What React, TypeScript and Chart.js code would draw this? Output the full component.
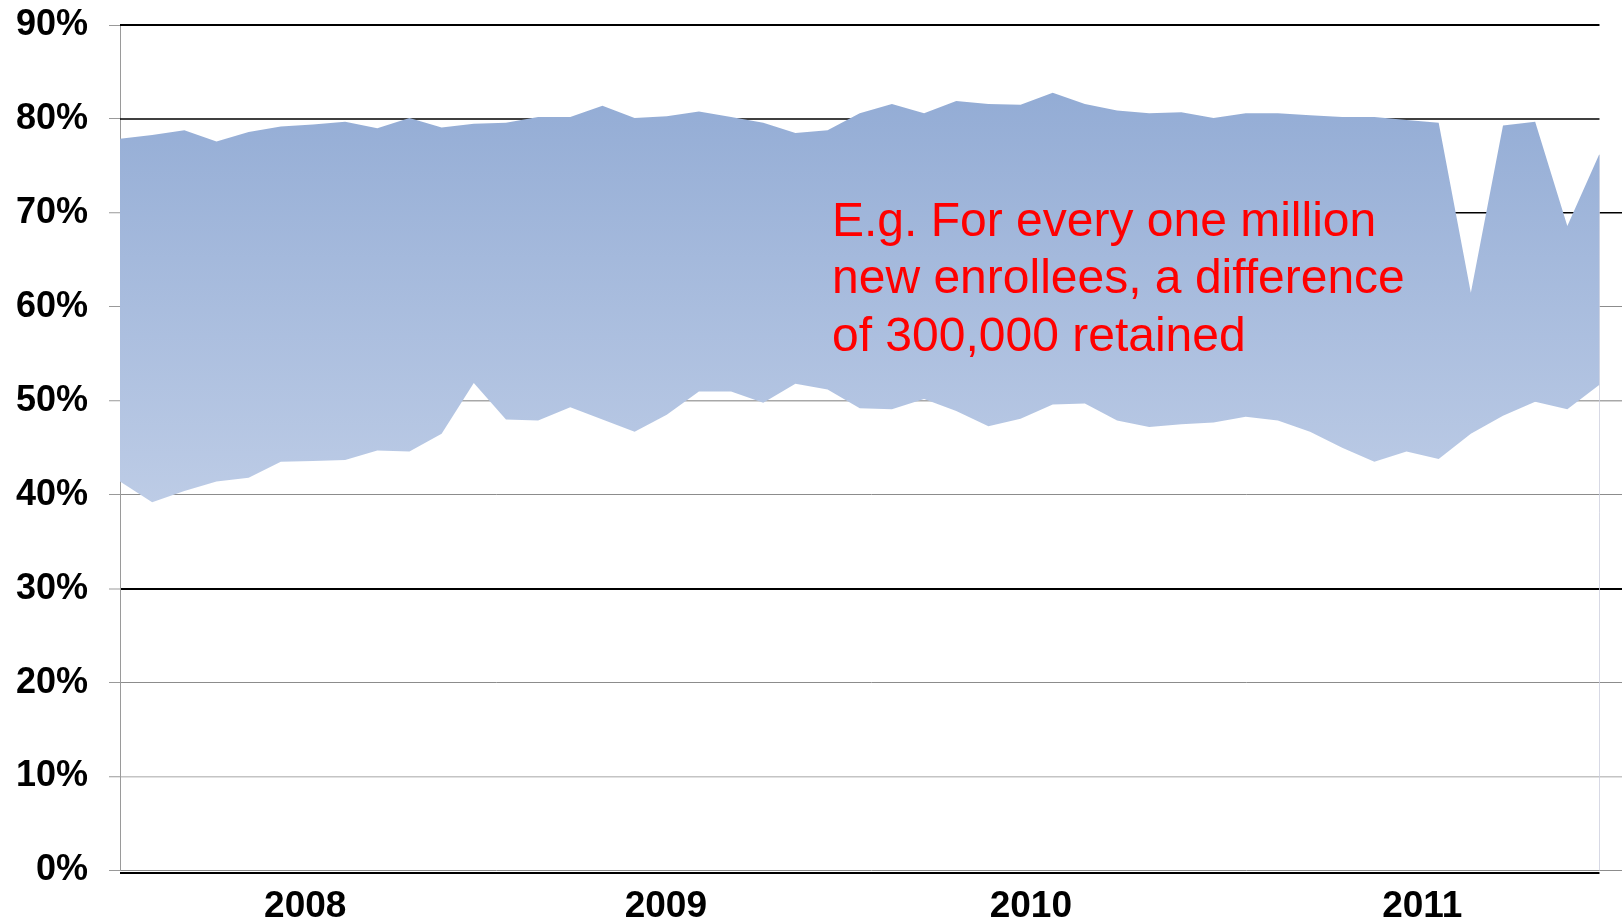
import { useEffect, useRef } from 'react';
import { Chart, registerables } from 'chart.js';

Chart.register(...registerables);

// Monthly retention band: upper and lower bounds (% of new enrollees retained)
const UPPER_PCT = [
  77.9, 78.3, 78.8, 77.6, 78.6, 79.2, 79.4, 79.7, 79.0, 80.1,
  79.1, 79.5, 79.6, 80.2, 80.2, 81.4, 80.1, 80.3, 80.8, 80.2,
  79.6, 78.5, 78.8, 80.6, 81.6, 80.6, 81.9, 81.6, 81.5, 82.8,
  81.6, 80.9, 80.6, 80.7, 80.1, 80.6, 80.6, 80.4, 80.2, 80.2,
  79.9, 79.6, 61.5, 79.3, 79.7, 68.6, 76.3,
];
const LOWER_PCT = [
  41.4, 39.2, 40.4, 41.4, 41.8, 43.5, 43.6, 43.7, 44.7, 44.6,
  46.5, 51.9, 48.0, 47.9, 49.3, 48.0, 46.7, 48.5, 51.0, 51.0,
  49.8, 51.8, 51.2, 49.2, 49.1, 50.2, 48.9, 47.3, 48.1, 49.6,
  49.7, 47.9, 47.2, 47.5, 47.7, 48.3, 47.9, 46.7, 45.0, 43.5,
  44.6, 43.8, 46.5, 48.4, 49.9, 49.1, 51.7,
];

// Year labels and where they sit along the month index axis
const YEAR_LABELS = ['2008', '2009', '2010', '2011'];
const YEAR_POSITIONS = [5.76, 16.97, 28.32, 40.49];

// Gridlines that stop at the last month instead of running to the edge
const SHORT_GRID_VALUES = [90, 80];

const NOTE_LINES = [
  'E.g. For every one million',
  'new enrollees, a difference',
  'of 300,000 retained',
];

const FONT = '"Liberation Sans", Arial, Helvetica, sans-serif';

function gridColor(v: number): string {
  if (SHORT_GRID_VALUES.includes(v)) return 'rgba(0,0,0,0)';
  if (v === 70 || v === 30) return '#000000';
  if (v === 10) return '#c4c4c4';
  if (v === 50) return '#a8a8a8';
  return '#8c8c8c';
}

function gridWidth(v: number): number {
  if (v === 30) return 2;
  if (v === 70 || v === 10 || v === 50) return 1.5;
  return 1;
}

const notePlugin = {
  id: 'retentionNote',
  afterDatasetsDraw(chart: any) {
    const { ctx } = chart;
    ctx.save();
    ctx.font = `48px ${FONT}`;
    ctx.fillStyle = '#ff0000';
    ctx.textBaseline = 'alphabetic';
    ctx.textAlign = 'left';
    NOTE_LINES.forEach((line, i) => ctx.fillText(line, 832, 236 + i * 57.3));
    ctx.restore();
  },
};

const frameLinesPlugin = {
  id: 'frameLines',
  beforeDatasetsDraw(chart: any) {
    const { ctx, scales } = chart;
    const x0 = scales.x.getPixelForValue(0);
    const x1 = scales.x.getPixelForValue(UPPER_PCT.length - 1);
    const yTop = scales.y.getPixelForValue(90);
    const y0 = scales.y.getPixelForValue(0);
    ctx.save();
    // faint right boundary of the data range
    ctx.strokeStyle = 'rgba(205,208,222,0.8)';
    ctx.lineWidth = 1;
    ctx.beginPath();
    ctx.moveTo(Math.round(x1) + 0.5, yTop + 130);
    ctx.lineTo(Math.round(x1) + 0.5, y0);
    ctx.stroke();
    // upper gridlines limited to the month range
    ctx.strokeStyle = '#000000';
    SHORT_GRID_VALUES.forEach((v) => {
      const y = scales.y.getPixelForValue(v);
      ctx.lineWidth = v === 90 ? 2 : 1.5;
      ctx.beginPath();
      ctx.moveTo(x0, y);
      ctx.lineTo(x1, y);
      ctx.stroke();
    });
    ctx.restore();
  },
  afterDatasetsDraw(chart: any) {
    const { ctx, scales } = chart;
    const x0 = scales.x.getPixelForValue(0);
    const x1 = scales.x.getPixelForValue(UPPER_PCT.length - 1);
    const y0 = scales.y.getPixelForValue(0);
    ctx.save();
    ctx.strokeStyle = '#000000';
    ctx.lineWidth = 2;
    ctx.beginPath();
    ctx.moveTo(x0, y0 + 2.5);
    ctx.lineTo(x1, y0 + 2.5);
    ctx.stroke();
    ctx.restore();
  },
};

export default function App() {
  const canvasRef = useRef<HTMLCanvasElement | null>(null);

  useEffect(() => {
    const canvas = canvasRef.current;
    if (!canvas) return;

    const bandFill = (context: any) => {
      const chart = context.chart;
      const y = chart.scales?.y;
      if (!chart.chartArea || !y) return '#a6bbde';
      const g = chart.ctx.createLinearGradient(0, y.getPixelForValue(83), 0, y.getPixelForValue(39));
      g.addColorStop(0, '#93acd5');
      g.addColorStop(1, '#bdcce6');
      return g;
    };

    const chart = new Chart(canvas, {
      type: 'line',
      data: {
        datasets: [
          {
            label: 'Lower',
            data: LOWER_PCT.map((v, i) => ({ x: i, y: v })),
            borderColor: 'rgba(0,0,0,0)',
            borderWidth: 0,
            pointRadius: 0,
            fill: false,
            tension: 0,
          },
          {
            label: 'Upper',
            data: UPPER_PCT.map((v, i) => ({ x: i, y: v })),
            borderColor: 'rgba(0,0,0,0)',
            borderWidth: 0,
            pointRadius: 0,
            backgroundColor: bandFill,
            fill: '-1',
            tension: 0,
          },
        ],
      },
      options: {
        responsive: false,
        animation: false,
        events: [],
        layout: { padding: { top: 25, right: 0, bottom: 0, left: 0 } },
        plugins: {
          legend: { display: false },
          tooltip: { enabled: false },
        },
        scales: {
          x: {
            type: 'linear',
            min: 0,
            max: 46.7,
            afterBuildTicks: (axis: any) => {
              axis.ticks = YEAR_POSITIONS.map((v) => ({ value: v }));
            },
            afterFit: (axis: any) => {
              axis.height = 49.5;
              axis.paddingLeft = 0;
              axis.paddingRight = 0;
            },
            ticks: {
              autoSkip: false,
              maxRotation: 0,
              padding: 14.3,
              color: '#000000',
              font: { family: FONT, size: 37, weight: 'bold' },
              callback: (value: any) => {
                const idx = YEAR_POSITIONS.indexOf(Number(value));
                return idx >= 0 ? YEAR_LABELS[idx] : '';
              },
            },
            grid: { display: false, drawTicks: false },
            border: { display: false },
          },
          y: {
            min: 0,
            max: 90,
            afterFit: (axis: any) => {
              axis.width = 120;
              axis.paddingTop = 0;
              axis.paddingBottom = 0;
            },
            ticks: {
              stepSize: 10,
              padding: 21,
              color: '#000000',
              font: { family: FONT, size: 36, weight: 'bold' },
              callback: (value: any) => `${value}%`,
            },
            grid: {
              color: (ctx: any) => gridColor(ctx.tick?.value),
              lineWidth: (ctx: any) => gridWidth(ctx.tick?.value),
              tickColor: '#999999',
              tickWidth: 1,
              tickLength: 11,
            },
            border: { display: true, color: '#9a9a9a', width: 1 },
          },
        },
      },
      plugins: [frameLinesPlugin, notePlugin],
    });

    return () => chart.destroy();
  }, []);

  return (
    <div
      style={{
        position: 'fixed',
        left: 0,
        top: 0,
        width: 1622,
        height: 920,
        overflow: 'hidden',
        background: '#ffffff',
      }}
    >
      <canvas ref={canvasRef} width={1622} height={920} style={{ display: 'block' }} />
    </div>
  );
}
